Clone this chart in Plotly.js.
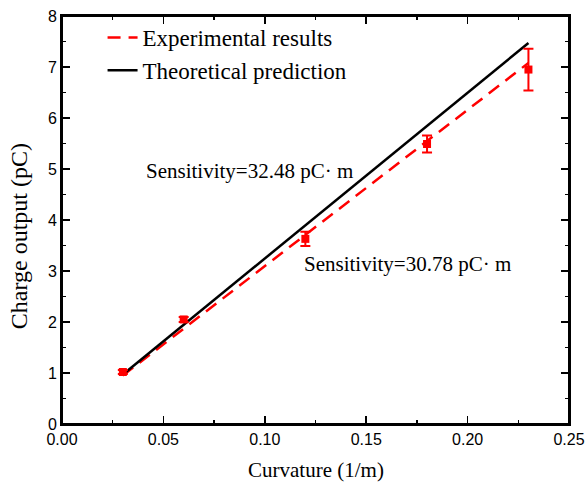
<!DOCTYPE html>
<html>
<head>
<meta charset="utf-8">
<script src="https://cdn.plot.ly/plotly-3.0.1.min.js"></script>
<style>html,body{margin:0;padding:0;background:#fff;}#chart{width:585px;height:488px;}</style>
</head>
<body>
<div id="chart"></div>
<script>
// Measured data
const curvature = [0.03, 0.06, 0.12, 0.18, 0.23];
const chargeMeasured = [1.02, 2.05, 3.63, 5.49, 6.95];
const chargeError = [0.04, 0.05, 0.14, 0.165, 0.41];

// Fitted line (experimental) endpoints
const fitX = [0.03, 0.23];
const fitY = [0.95, 7.08];

// Theoretical prediction endpoints
const theoryX = [0.03, 0.23];
const theoryY = [0.97, 7.47];

const xTicks = [0, 0.05, 0.10, 0.15, 0.20, 0.25];
const xTickText = ["0.00", "0.05", "0.10", "0.15", "0.20", "0.25"];
const yTicks = [0, 1, 2, 3, 4, 5, 6, 7, 8];

const serif = "Liberation Serif, Times New Roman, serif";
const sans = "Liberation Sans, Arial, sans-serif";

const traces = [
  {
    x: fitX, y: fitY, mode: "lines", name: "Experimental results",
    line: {color: "#ff0000", width: 2.5, dash: "13px,8px"}
  },
  {
    x: theoryX, y: theoryY, mode: "lines", name: "Theoretical prediction",
    line: {color: "#000000", width: 2.5}
  },
  {
    x: curvature, y: chargeMeasured, mode: "markers", showlegend: false,
    marker: {symbol: "square", color: "#ff0000", size: 8},
    error_y: {type: "data", array: chargeError, visible: true, color: "#ff0000", thickness: 2, width: 5}
  }
];

const axisCommon = {
  showgrid: false, zeroline: false, showline: true, linecolor: "#000", linewidth: 2,
  mirror: "allticks", ticks: "inside", ticklen: 8, tickwidth: 1.5, tickcolor: "#000",
  ticklabeloverflow: "allow",
  tickfont: {family: sans, size: 16, color: "#000"}
};

const layout = {
  width: 585, height: 488,
  margin: {l: 62, r: 16, t: 16, b: 64},
  paper_bgcolor: "#fff", plot_bgcolor: "#fff",
  showlegend: true,
  legend: {x: 0.08, y: 1.0, xanchor: "left", yanchor: "top", bgcolor: "rgba(0,0,0,0)",
    font: {family: serif, size: 23, color: "#000"}, tracegroupgap: 0},
  xaxis: Object.assign({}, axisCommon, {
    range: [0, 0.25], tickvals: xTicks, ticktext: xTickText,
    minor: {dtick: 0.025, ticks: "inside", ticklen: 4, tickwidth: 1.5, tickcolor: "#000", showgrid: false}
  }),
  yaxis: Object.assign({}, axisCommon, {
    range: [0, 8], tickvals: yTicks,
    minor: {dtick: 0.5, ticks: "inside", ticklen: 4, tickwidth: 1.5, tickcolor: "#000", showgrid: false}
  }),
  shapes: [
    {type: "rect", xref: "paper", yref: "paper", x0: 0, x1: 1, y0: 0, y1: 1,
     line: {color: "#000", width: 2}, fillcolor: "rgba(0,0,0,0)"}
  ],
  annotations: [
    {x: 0.0405, y: 4.96, xref: "x", yref: "y", xanchor: "left", yanchor: "middle", showarrow: false,
     text: "Sensitivity=32.48 pC· m", font: {family: serif, size: 21, color: "#000"}},
    {x: 0.1185, y: 3.14, xref: "x", yref: "y", xanchor: "left", yanchor: "middle", showarrow: false,
     text: "Sensitivity=30.78 pC· m", font: {family: serif, size: 21, color: "#000"}},
    {x: 0.5, y: -0.113, xref: "paper", yref: "paper", xanchor: "center", yanchor: "middle", showarrow: false,
     text: "Curvature (1/m)", font: {family: serif, size: 21, color: "#000"}},
    {x: -0.085, y: 0.46, xref: "paper", yref: "paper", xanchor: "center", yanchor: "middle", showarrow: false,
     textangle: -90, text: "Charge output (pC)", font: {family: serif, size: 24, color: "#000"}}
  ]
};

Plotly.newPlot("chart", traces, layout, {displayModeBar: false, staticPlot: true});
</script>
</body>
</html>
